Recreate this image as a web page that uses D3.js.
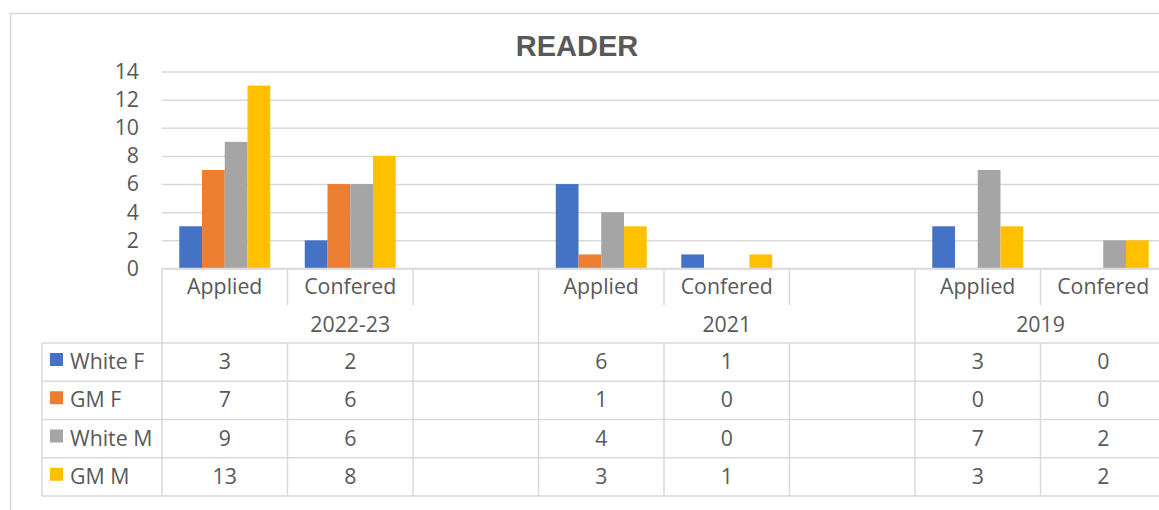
<!DOCTYPE html>
<html>
<head>
<meta charset="utf-8">
<script src="https://cdn.jsdelivr.net/npm/d3@7"></script>
<style>
  body { margin: 0; background: #fff; }
  svg { display: block; }
  text { font-family: "Open Sans", sans-serif; fill: #595959; }
</style>
</head>
<body>
<div id="chart"></div>
<script>
// category slots (blank slots keep the spacing between years)
const slotGroup = ["2022-23", "2022-23", "2022-23", "2021", "2021", "2021", "2019", "2019"];
const slotLabel = ["Applied", "Confered", "", "Applied", "Confered", "", "Applied", "Confered"];
const years = ["2022-23", "2021", "2019"];

const seriesNames = ["White F", "GM F", "White M", "GM M"];
const whiteF = [3, 2, null, 6, 1, null, 3, 0];
const gmF = [7, 6, null, 1, 0, null, 0, 0];
const whiteM = [9, 6, null, 4, 0, null, 7, 2];
const gmM = [13, 8, null, 3, 1, null, 3, 2];
const yTicks = [0, 2, 4, 6, 8, 10, 12, 14];

const colors = ["#4472C4", "#ED7D31", "#A5A5A5", "#FFC000"];
const grid = "#D9D9D9";

const width = 1159, height = 510;
const left = 162, right = 1166;
const yTop = 71.5, yBase = 268.5;
const rowCat = 305, rowYear = 343;
const rowH = 38.25;
const fs = "21.3px";

const series = [whiteF, gmF, whiteM, gmM];

const svg = d3.select("#chart").append("svg")
  .attr("width", width)
  .attr("height", height);

// outer chart border
svg.append("rect")
  .attr("x", 10.5).attr("y", 13.5)
  .attr("width", 1200).attr("height", 520)
  .attr("fill", "none").attr("stroke", grid).attr("stroke-width", 1.5);

svg.append("text")
  .attr("x", 577).attr("y", 56)
  .attr("text-anchor", "middle")
  .style("font-family", "'Liberation Sans', Arial, sans-serif")
  .style("font-weight", "bold")
  .style("font-size", "29px")
  .text("READER");

const x = d3.scaleBand().domain(d3.range(slotLabel.length)).range([left, right]);
const x1 = d3.scaleBand().domain(d3.range(seriesNames.length))
  .range([0, x.bandwidth()]).paddingOuter(0.76);
const y = d3.scaleLinear().domain([0, 14]).range([yBase, yTop]);

// gridlines + y labels
const yAxis = d3.axisLeft(y).tickValues(yTicks).tickSize(-(right - left)).tickPadding(23);
const gy = svg.append("g").attr("transform", `translate(${left},0)`).call(yAxis);
gy.select(".domain").remove();
gy.selectAll(".tick line").attr("stroke", grid).attr("stroke-width", 1.5);
gy.selectAll(".tick text")
  .style("font-size", fs)
  .style("font-family", "'Open Sans', sans-serif")
  .attr("fill", "#595959");

// bars
series.forEach((vals, si) => {
  svg.append("g").selectAll("rect")
    .data(vals.map((v, i) => ({ v, i })).filter(d => d.v))
    .enter().append("rect")
    .attr("x", d => x(d.i) + x1(si))
    .attr("width", x1.bandwidth())
    .attr("y", d => y(d.v))
    .attr("height", d => y(0) - y(d.v))
    .attr("fill", colors[si]);
});

// data table
const tbl = svg.append("g").attr("stroke", grid).attr("stroke-width", 1.5);
const rowTops = d3.range(seriesNames.length + 1).map(k => rowYear + k * rowH);

// horizontal lines
tbl.append("line").attr("x1", left).attr("x2", right + 10).attr("y1", yBase).attr("y2", yBase);
rowTops.forEach(ry => {
  tbl.append("line").attr("x1", 42).attr("x2", right + 10).attr("y1", ry).attr("y2", ry);
});
tbl.append("line").attr("x1", 42).attr("x2", 42).attr("y1", rowYear).attr("y2", rowTops[rowTops.length - 1]);

// vertical lines at slot edges
d3.range(slotLabel.length + 1).forEach(i => {
  const xx = i < slotLabel.length ? x(i) : right;
  const groupEdge = i === 0 || i === slotLabel.length || slotGroup[i] !== slotGroup[i - 1];
  if (groupEdge) {
    tbl.append("line").attr("x1", xx).attr("x2", xx).attr("y1", yBase).attr("y2", rowTops[rowTops.length - 1]);
  } else {
    tbl.append("line").attr("x1", xx).attr("x2", xx).attr("y1", yBase).attr("y2", rowCat);
    tbl.append("line").attr("x1", xx).attr("x2", xx).attr("y1", rowYear).attr("y2", rowTops[rowTops.length - 1]);
  }
});

const label = (xx, yy, t, anchor) => svg.append("text")
  .attr("x", xx).attr("y", yy)
  .attr("text-anchor", anchor || "middle")
  .style("font-size", fs)
  .text(t);

slotLabel.forEach((t, i) => {
  if (t) label(x(i) + x.bandwidth() / 2, 294, t);
});

years.forEach(g => {
  const idx = slotGroup.map((s, i) => s === g ? i : -1).filter(i => i >= 0);
  const x0 = x(idx[0]), xEnd = x(idx[idx.length - 1]) + x.bandwidth();
  label((x0 + xEnd) / 2, 331.5, g);
});

seriesNames.forEach((name, si) => {
  const top = rowTops[si];
  svg.append("rect")
    .attr("x", 50).attr("y", top + 10)
    .attr("width", 13).attr("height", 13)
    .attr("fill", colors[si]);
  label(70, top + 26, name, "start");
  series[si].forEach((v, i) => {
    if (v !== null) label(x(i) + x.bandwidth() / 2, top + 26, String(v));
  });
});
</script>
</body>
</html>
